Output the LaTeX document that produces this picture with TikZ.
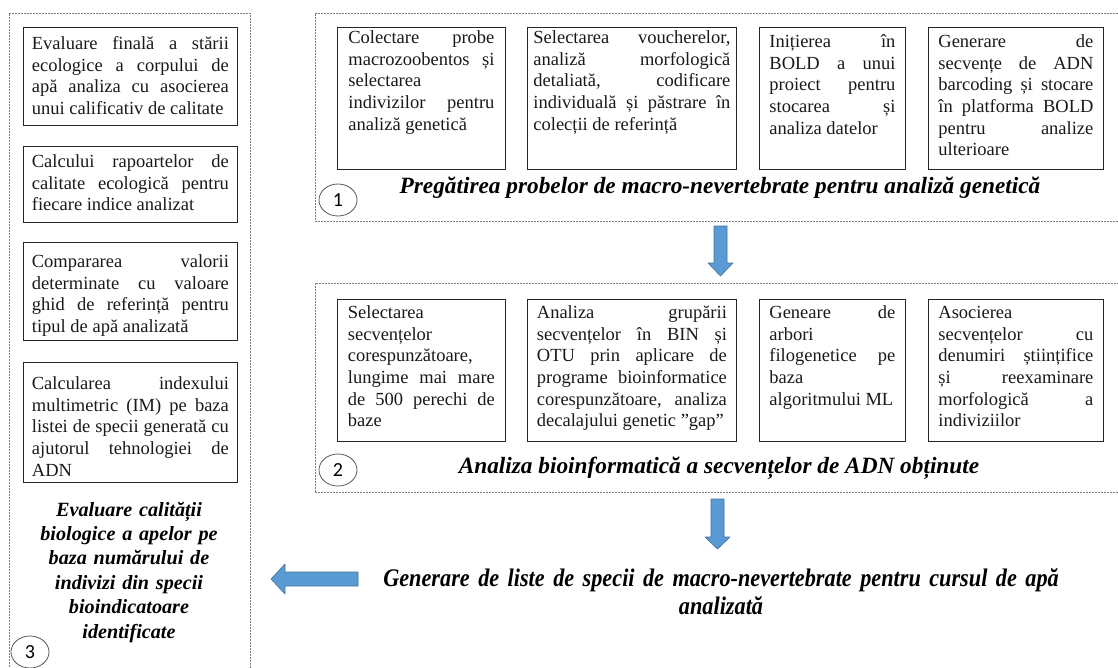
\documentclass[tikz,border=0pt]{standalone}
\usepackage{fontspec}
\setmainfont{Liberation Serif}
\newfontfamily\numfont{Carlito}
\newfontfamily\condfont[FakeStretch=0.88]{Liberation Serif}
\usetikzlibrary{shapes.geometric}
\definecolor{ArrowBlue}{HTML}{5B9BD5}
\definecolor{ArrowEdge}{HTML}{41719C}
\definecolor{PanelGray}{HTML}{7F7F7F}
\newcommand{\boxfont}{\fontsize{18.5}{21.7}\selectfont\hyphenpenalty=10000\exhyphenpenalty=10000}
\newcommand{\phasefont}{\fontsize{23.3}{27}\selectfont\bfseries\itshape}
\newcommand{\sidefont}{\fontsize{20.2}{24.4}\selectfont\bfseries\itshape}
\hbadness=10000
\tolerance=9999

\begin{document}
\begin{tikzpicture}[x=1pt,y=-1pt,
  stepbox/.style={draw=black!85, line width=0.8pt, anchor=north west, align=justify, inner ysep=0pt, inner xsep=10pt, text=black!90, font=\boxfont},
  panel/.style={draw=PanelGray, line width=0.8pt, dash pattern=on 2pt off 1pt, anchor=north west, inner sep=0pt},
  numcircle/.style={draw=black!65, line width=0.8pt, ellipse, minimum width=38pt, minimum height=32pt, inner sep=0pt, font=\numfont\fontsize{20}{20}\selectfont},
  phase/.style={anchor=base, align=center, font=\phasefont},
  blockarrow/.style={fill=ArrowBlue, draw=ArrowEdge, line width=0.6pt, line join=round}]
\useasboundingbox (0,0) rectangle (1118,667);

% panels
\node[panel, minimum width=806pt, minimum height=208pt] (p1) at (315,13) {};
\node[panel, minimum width=806pt, minimum height=209pt] (p2) at (315,283) {};
\node[panel, minimum width=241pt, minimum height=660pt] (p3) at (9,13) {};

% panel 1
\node[stepbox, inner xsep=11pt, text width=146pt, text height=16pt, text depth=126pt] (t1) at (337,27)
  {Colectare probe\linebreak macrozoobentos și\linebreak selectarea\linebreak indivizilor pentru\linebreak analiză genetică};
\node[stepbox, inner xsep=6pt, text width=197pt, text height=16pt, text depth=126pt] (t2) at (527,27)
  {Selectarea voucherelor,\linebreak analiză morfologică\linebreak detaliată, codificare\linebreak individuală și păstrare în\linebreak colecții de referință};
\node[stepbox, text width=126pt, text height=20pt, text depth=122pt] (t3) at (759,27)
  {Inițierea în\linebreak BOLD a unui\linebreak proiect pentru\linebreak stocarea și\linebreak analiza datelor};
\node[stepbox, text width=155pt, text height=20pt, text depth=122pt] (t4) at (928,27)
  {Generare de\linebreak secvențe de ADN\linebreak barcoding și stocare\linebreak în platforma BOLD\linebreak pentru analize\linebreak ulterioare};
\node[phase] (h1) at (720,193) {Pregătirea probelor de macro-nevertebrate pentru analiză genetică};
\node[numcircle] (n1) at (338,200) {1};

% panel 2
\node[stepbox, inner xsep=10.5pt, text width=147pt, text height=19pt, text depth=123pt] (m1) at (337,299)
  {Selectarea\linebreak secvențelor\linebreak corespunzătoare,\linebreak lungime mai mare\linebreak de 500 perechi de\linebreak baze};
\node[stepbox, inner xsep=9.5pt, text width=190pt, text height=19pt, text depth=123pt] (m2) at (527,299)
  {Analiza grupării\linebreak secvențelor în BIN și\linebreak OTU prin aplicare de\linebreak programe bioinformatice\linebreak corespunzătoare, analiza\linebreak decalajului genetic ”gap”};
\node[stepbox, text width=126pt, text height=19pt, text depth=123pt] (m3) at (759,299)
  {Geneare de\linebreak arbori\linebreak filogenetice pe\linebreak baza\linebreak algoritmului ML};
\node[stepbox, text width=155pt, text height=19pt, text depth=123pt] (m4) at (928,299)
  {Asocierea\linebreak secvențelor cu\linebreak denumiri științifice\linebreak și reexaminare\linebreak morfologică a\linebreak indiviziilor};
\node[phase] (h2) at (719,473) {Analiza bioinformatică a secvențelor de ADN obținute};
\node[numcircle] (n2) at (338,470) {2};

% panel 3
\node[stepbox, inner xsep=8.5pt, text width=197pt, text height=22pt, text depth=76pt] (l1) at (23,27)
  {Evaluare finală a stării\linebreak ecologice a corpului de\linebreak apă analiza cu asocierea\linebreak unui calificativ de calitate};
\node[stepbox, inner xsep=8.5pt, text width=197pt, text height=21pt, text depth=55pt] (l2) at (23,146)
  {Calcului rapoartelor de\linebreak calitate ecologică pentru\linebreak fiecare indice analizat};
\node[stepbox, inner xsep=8.5pt, text width=197pt, text height=25pt, text depth=73pt] (l3) at (23,242)
  {Compararea valorii\linebreak determinate cu valoare\linebreak ghid de referință pentru\linebreak tipul de apă analizată};
\node[stepbox, inner xsep=8.5pt, text width=197pt, text height=27pt, text depth=93pt] (l4) at (23,362)
  {Calcularea indexului\linebreak multimetric (IM) pe baza\linebreak listei de specii generată cu\linebreak ajutorul tehnologiei de\linebreak ADN};
\node[phase, text width=235pt, font=\sidefont] (h3) at (129,516) {Evaluare calității\\ biologice a apelor pe\\ baza numărului de\\ indivizi din specii\\ bioindicatoare\\ identificate};
\node[numcircle] (n3) at (30,652) {3};

% result
\node[anchor=base, align=center, text width=800pt, font=\condfont\fontsize{25.3}{28}\selectfont\bfseries\itshape] (res) at (721,586)
  {Generare de liste de specii de macro-nevertebrate pentru cursul de apă\\ analizată};

% block arrows
\coordinate (a1) at (720.5,226);
\coordinate (a2) at (717.5,499);
\coordinate (a3) at (358,579);
\draw[blockarrow] (a1) ++(-6.5,0) -- ++(13,0) -- ++(0,37) -- ++(6,0) -- ++(-12.5,13) -- ++(-12.5,-13) -- ++(6,0) -- cycle;
\draw[blockarrow] (a2) ++(-6.5,0) -- ++(13,0) -- ++(0,38) -- ++(6,0) -- ++(-12.5,12) -- ++(-12.5,-12) -- ++(6,0) -- cycle;
\draw[blockarrow] (a3) ++(0,-7) -- ++(-73,0) -- ++(0,-8) -- ++(-14,15) -- ++(14,15) -- ++(0,-8) -- ++(73,0) -- cycle;
\end{tikzpicture}
\end{document}
